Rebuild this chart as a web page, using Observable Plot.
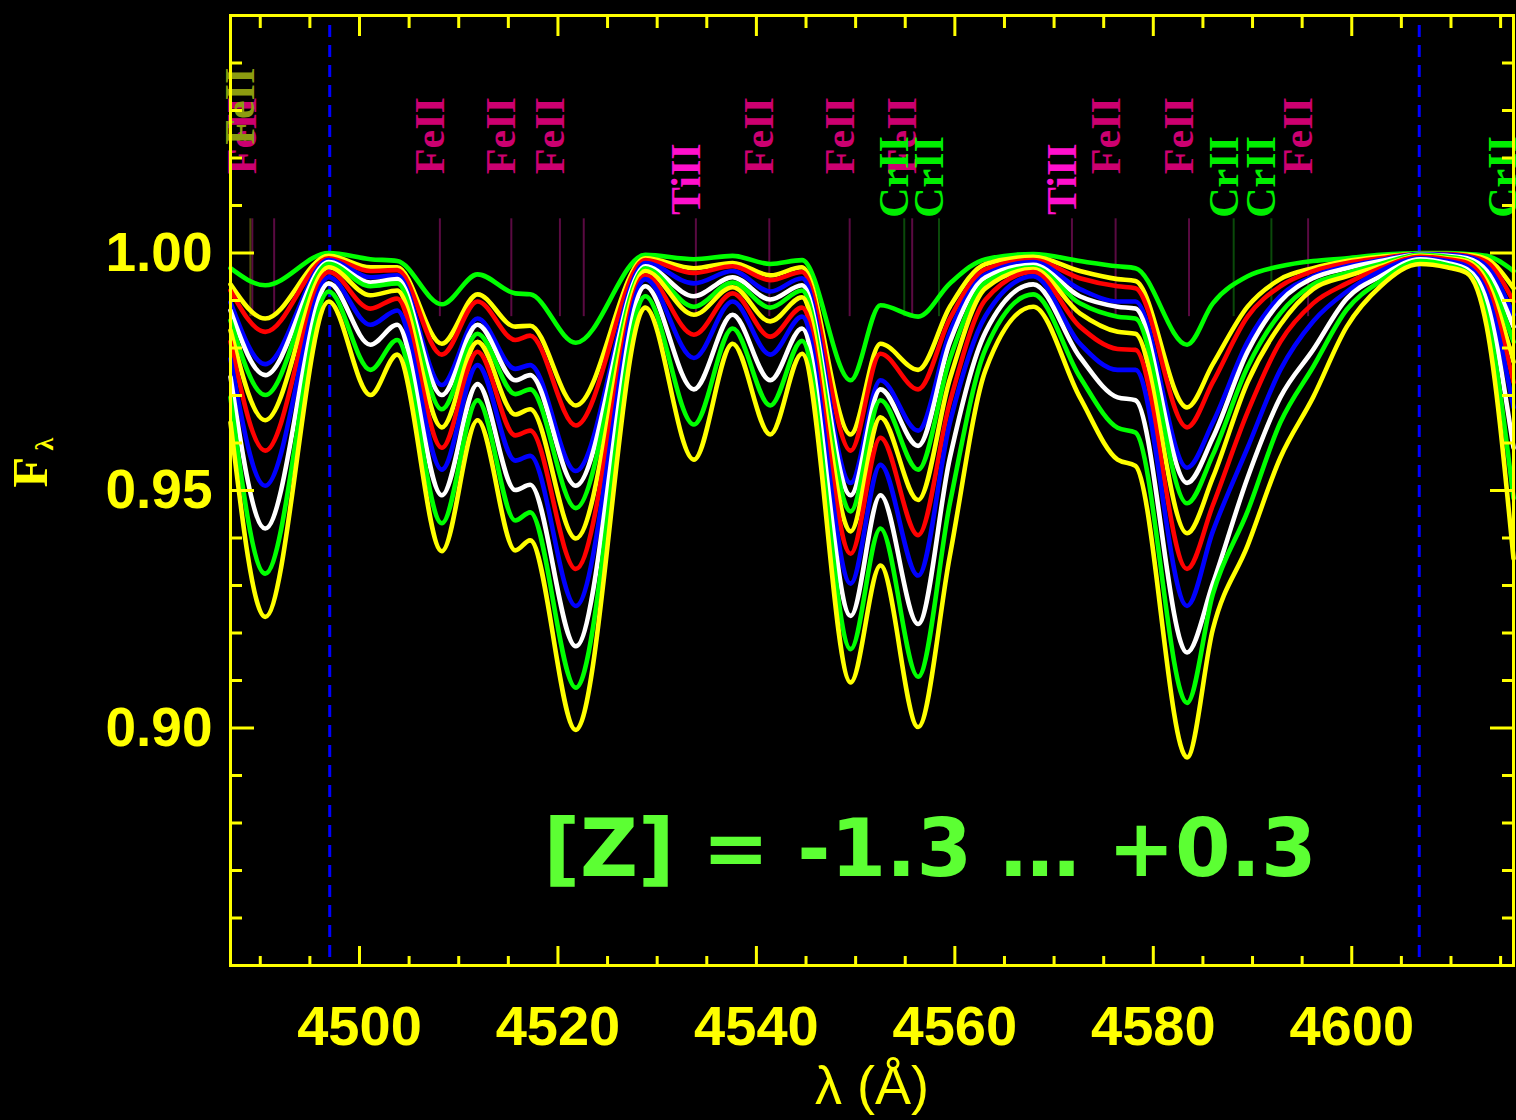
<!DOCTYPE html>
<html>
<head>
<meta charset="utf-8">
<script src="https://cdn.jsdelivr.net/npm/d3@7"></script>
<script src="https://cdn.jsdelivr.net/npm/@observablehq/plot@0.6"></script>
<style>
  html, body { margin: 0; padding: 0; background: #000; }
  #chart svg { display: block; }
  g[aria-label="metallicity-note"] text { letter-spacing: 5px; }
</style>
</head>
<body>
<div id="chart"></div>
<script>
// ---------------- data ----------------
const wavelengths = [4487.0, 4490.5, 4496.9, 4501.1, 4503.8, 4508.3, 4511.9, 4515.7, 4517.2, 4521.8,
  4528.8, 4533.7, 4537.6, 4541.4, 4544.6, 4549.5, 4552.5, 4556.3, 4559.5, 4563.1,
  4567.9, 4572.6, 4576.4, 4578.2, 4583.4, 4586.0, 4589.5, 4592.8, 4596.1, 4599.5,
  4602.9, 4606.9, 4609.6, 4611.6, 4613.6, 4616.3];

const fluxG1 = [0.9968,0.9932,1.0000,0.9987,0.9983,0.9892,0.9955,0.9915,0.9913,0.9811,0.9996,0.9987,0.9994,0.9977,0.9985,0.9732,0.9890,0.9866,0.9936,0.9987,0.9998,0.9983,0.9972,0.9968,0.9807,0.9894,0.9951,0.9972,0.9983,0.9989,0.9996,1.0000,1.0000,0.9998,0.9994,0.9962];
const fluxY1 = [0.9934,0.9862,0.9994,0.9970,0.9970,0.9809,0.9913,0.9845,0.9847,0.9679,0.9989,0.9968,0.9979,0.9953,0.9970,0.9618,0.9809,0.9754,0.9887,0.9977,0.9992,0.9962,0.9945,0.9941,0.9675,0.9766,0.9887,0.9945,0.9968,0.9983,0.9992,0.9998,0.9998,0.9996,0.9987,0.9926];
const fluxR1 = [0.9921,0.9834,0.9989,0.9962,0.9964,0.9786,0.9898,0.9817,0.9826,0.9637,0.9985,0.9958,0.9972,0.9943,0.9960,0.9584,0.9788,0.9713,0.9862,0.9966,0.9985,0.9947,0.9930,0.9926,0.9633,0.9728,0.9866,0.9930,0.9962,0.9979,0.9989,0.9998,0.9998,0.9994,0.9981,0.9898];
const fluxB1 = [0.9896,0.9766,0.9985,0.9949,0.9953,0.9722,0.9862,0.9756,0.9764,0.9541,0.9979,0.9936,0.9962,0.9919,0.9947,0.9516,0.9732,0.9626,0.9834,0.9955,0.9981,0.9924,0.9898,0.9898,0.9548,0.9643,0.9813,0.9909,0.9951,0.9972,0.9985,0.9998,0.9996,0.9992,0.9972,0.9870];
const fluxW1 = [0.9879,0.9743,0.9981,0.9938,0.9945,0.9701,0.9849,0.9732,0.9743,0.9510,0.9972,0.9909,0.9949,0.9902,0.9932,0.9490,0.9713,0.9594,0.9813,0.9949,0.9975,0.9909,0.9887,0.9883,0.9516,0.9611,0.9792,0.9898,0.9947,0.9968,0.9983,0.9996,0.9994,0.9989,0.9962,0.9845];
const fluxG2 = [0.9858,0.9701,0.9977,0.9930,0.9936,0.9671,0.9830,0.9703,0.9713,0.9463,0.9968,0.9887,0.9938,0.9885,0.9921,0.9456,0.9690,0.9544,0.9777,0.9938,0.9970,0.9894,0.9866,0.9862,0.9473,0.9575,0.9760,0.9873,0.9934,0.9958,0.9977,0.9996,0.9992,0.9985,0.9951,0.9813];
const fluxY2 = [0.9837,0.9648,0.9970,0.9911,0.9921,0.9633,0.9813,0.9660,0.9671,0.9399,0.9962,0.9870,0.9928,0.9856,0.9907,0.9414,0.9654,0.9480,0.9735,0.9926,0.9966,0.9873,0.9834,0.9830,0.9410,0.9527,0.9728,0.9849,0.9924,0.9951,0.9972,0.9994,0.9989,0.9983,0.9941,0.9771];
const fluxR2 = [0.9813,0.9584,0.9960,0.9883,0.9904,0.9590,0.9792,0.9616,0.9626,0.9335,0.9953,0.9828,0.9915,0.9824,0.9885,0.9367,0.9611,0.9406,0.9686,0.9902,0.9960,0.9845,0.9798,0.9796,0.9335,0.9469,0.9665,0.9813,0.9894,0.9936,0.9968,0.9992,0.9987,0.9979,0.9930,0.9728];
const fluxB2 = [0.9777,0.9510,0.9949,0.9849,0.9879,0.9544,0.9764,0.9563,0.9573,0.9257,0.9945,0.9779,0.9898,0.9786,0.9866,0.9304,0.9554,0.9321,0.9643,0.9868,0.9951,0.9809,0.9754,0.9754,0.9257,0.9414,0.9590,0.9754,0.9856,0.9919,0.9962,0.9989,0.9983,0.9972,0.9915,0.9675];
const fluxW2 = [0.9739,0.9420,0.9936,0.9807,0.9849,0.9490,0.9724,0.9501,0.9512,0.9172,0.9930,0.9713,0.9870,0.9732,0.9841,0.9236,0.9490,0.9219,0.9569,0.9834,0.9934,0.9781,0.9696,0.9690,0.9159,0.9304,0.9527,0.9696,0.9796,0.9904,0.9951,0.9987,0.9979,0.9966,0.9898,0.9590];
const fluxG3 = [0.9696,0.9325,0.9919,0.9754,0.9817,0.9431,0.9690,0.9437,0.9454,0.9085,0.9909,0.9639,0.9841,0.9679,0.9815,0.9166,0.9420,0.9108,0.9473,0.9798,0.9913,0.9739,0.9632,0.9622,0.9053,0.9282,0.9456,0.9643,0.9760,0.9881,0.9941,0.9983,0.9975,0.9960,0.9870,0.9484];
const fluxY3 = [0.9643,0.9234,0.9898,0.9701,0.9786,0.9372,0.9648,0.9374,0.9395,0.8996,0.9885,0.9565,0.9809,0.9618,0.9788,0.9096,0.9342,0.9002,0.9363,0.9754,0.9887,0.9696,0.9565,0.9552,0.8938,0.9208,0.9384,0.9569,0.9696,0.9845,0.9930,0.9977,0.9970,0.9958,0.9845,0.9357];

const seriesFlux = [fluxG1, fluxY1, fluxR1, fluxB1, fluxW1, fluxG2, fluxY2, fluxR2, fluxB2, fluxW2, fluxG3, fluxY3];
const seriesColors = ["#00ff00","#ffff00","#ff0000","#0000ff","#ffffff","#00ff00","#ffff00","#ff0000","#0000ff","#ffffff","#00ff00","#ffff00"];

// identified spectral lines
const lineWavelengths = [4489.2, 4491.4, 4508.1, 4515.3, 4520.2, 4522.6, 4533.9, 4541.3, 4549.4, 4554.9, 4555.7, 4558.4, 4571.8, 4576.2, 4583.6, 4588.1, 4591.9, 4595.6, 4616.2, 4489.0];
const lineIons        = ["FeII","FeII","FeII","FeII","FeII","FeII","TiII","FeII","FeII","CrII","FeII","CrII","TiII","FeII","FeII","CrII","CrII","FeII","CrII","FeII"];
const lineSets        = ["main","main","main","main","main","main","main","main","main","main","main","main","main","main","main","main","main","main","main","alt"];
const lineLabelled    = [true, false, true, true, true, false, true, true, true, true, true, true, true, true, true, true, true, true, true, true];

const regionEdges = [4497.0, 4606.8];
const xMajorTicks = [4500, 4520, 4540, 4560, 4580, 4600];
const xMinorTicks = [4490, 4495, 4505, 4510, 4515, 4525, 4530, 4535, 4545, 4550, 4555, 4565, 4570, 4575, 4585, 4590, 4595, 4605, 4610, 4615];
const yMajorTicks = [0.90, 0.95, 1.00];
const yMinorTicks = [0.86, 0.87, 0.88, 0.89, 0.91, 0.92, 0.93, 0.94, 0.96, 0.97, 0.98, 0.99, 1.01, 1.02, 1.03, 1.04];
const noteText = "[Z] = -1.3 … +0.3";

// ---------------- styles ----------------
const yellow = "#ffff00";
const labelFill   = {"main:FeII": "#cc0070", "main:TiII": "#ff10cc", "main:CrII": "#00ee00", "alt:FeII": "#8c9c10"};
const markerColor = {"main:FeII": "#5a0a42", "main:TiII": "#5a0a42", "main:CrII": "#0a4a0a", "alt:FeII": "#4a4a08"};
const labelBase   = {"main:FeII": 1.0166, "main:TiII": 1.0080, "main:CrII": 1.0074, "alt:FeII": 1.0228};
const labelOrder  = {"main:FeII": 0, "main:TiII": 1, "main:CrII": 2, "alt:FeII": 3};
const markerLow = 0.9866, markerHigh = 1.0072;

const lines = lineWavelengths.map((wl, i) => ({wl, ion: lineIons[i], key: lineSets[i] + ":" + lineIons[i], labelled: lineLabelled[i]}));
const labels = lines.filter(d => d.labelled).sort((a, b) => labelOrder[a.key] - labelOrder[b.key]);

const spectra = seriesFlux.map((vals, i) =>
  Plot.line(wavelengths.map((wl, j) => ({wl, flux: vals[j]})), {
    x: "wl", y: "flux", stroke: seriesColors[i], strokeWidth: 4.6,
    curve: "monotone-x", strokeLinejoin: "round", strokeLinecap: "round"
  })
);

const tickStyle = {stroke: yellow, strokeWidth: 3, fill: "none", label: null};

const chart = Plot.plot({
  width: 1516,
  height: 1120,
  marginLeft: 230,
  marginRight: 3,
  marginTop: 15,
  marginBottom: 155,
  x: {domain: [4487.0, 4616.3], label: null},
  y: {domain: [0.85, 1.05], label: null},
  color: {type: "identity"},
  style: {background: "#000", color: yellow, fontFamily: "'Liberation Sans', Arial, sans-serif", overflow: "visible"},
  marks: [
    Plot.ruleX(lines, {x: "wl", y1: markerLow, y2: markerHigh, stroke: d => markerColor[d.key], strokeWidth: 2}),
    Plot.ruleX(regionEdges, {stroke: "#0000ff", strokeWidth: 3, strokeDasharray: "12 8", insetTop: 10}),
    ...spectra,
    Plot.text(labels, {
      x: "wl", y: d => labelBase[d.key], text: "ion", rotate: -90,
      textAnchor: "start", lineAnchor: "bottom", dx: 4,
      fill: d => labelFill[d.key], fontSize: 42, fontWeight: "bold",
      fontFamily: "'Liberation Serif', 'DejaVu Serif', serif"
    }),
    Plot.text([noteText], {
      frameAnchor: "bottom", dx: 58, dy: -90, fontSize: 80, fontWeight: "bold",
      fill: "#5cff33", fontFamily: "'DejaVu Sans', sans-serif", ariaLabel: "metallicity-note"
    }),
    Plot.frame({stroke: yellow, strokeWidth: 3}),
    Plot.axisX(xMajorTicks, {anchor: "bottom", tickSize: -19, ...tickStyle}),
    Plot.axisX(xMinorTicks, {anchor: "bottom", tickSize: -9, ...tickStyle}),
    Plot.axisX(xMajorTicks, {anchor: "top", tickSize: -20, ...tickStyle}),
    Plot.axisX(xMinorTicks, {anchor: "top", tickSize: -12, ...tickStyle}),
    Plot.axisY(yMajorTicks, {anchor: "left", tickSize: -24, ...tickStyle}),
    Plot.axisY(yMinorTicks, {anchor: "left", tickSize: -12, ...tickStyle}),
    Plot.axisY(yMajorTicks, {anchor: "right", tickSize: -24, ...tickStyle}),
    Plot.axisY(yMinorTicks, {anchor: "right", tickSize: -12, ...tickStyle}),
    Plot.axisX(xMajorTicks, {
      anchor: "bottom", tickSize: 0, tickPadding: 40, tickFormat: d => String(d),
      fill: yellow, fontSize: 56, fontWeight: "bold", label: null
    }),
    Plot.axisY(yMajorTicks, {
      anchor: "left", tickSize: 0, tickPadding: 18, tickFormat: d3.format(".2f"),
      fill: yellow, fontSize: 55, fontWeight: "bold", label: null
    }),
    Plot.text(["λ (Å)"], {frameAnchor: "bottom", dy: 138, fontSize: 54, fill: yellow}),
    Plot.text(["F"], {frameAnchor: "left", dx: -200, dy: -3, rotate: -90, fontSize: 50, fontWeight: "bold", fill: yellow, fontFamily: "'Liberation Serif', serif"}),
    Plot.text(["λ"], {frameAnchor: "left", dx: -186, dy: -40, rotate: -90, fontSize: 26, fontWeight: "bold", fill: yellow, fontFamily: "'Liberation Serif', serif"})
  ]
});

document.getElementById("chart").appendChild(chart);
</script>
</body>
</html>
